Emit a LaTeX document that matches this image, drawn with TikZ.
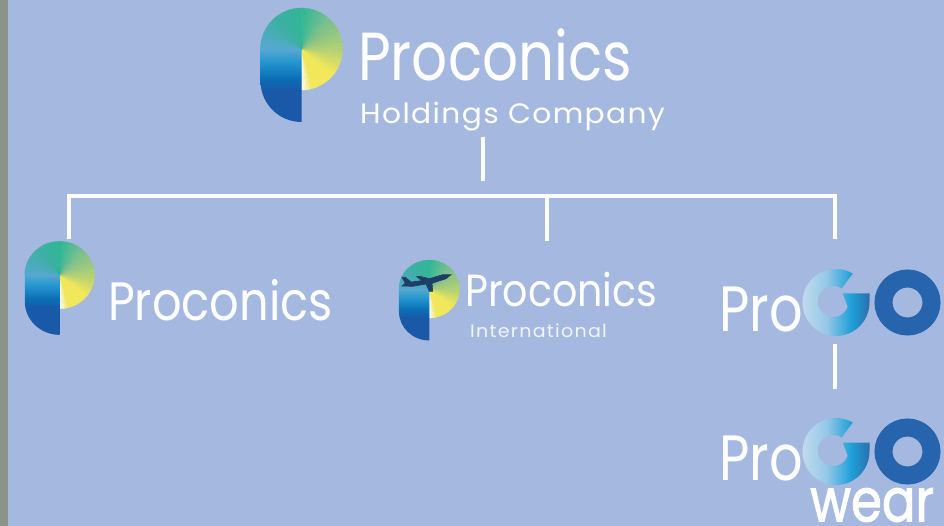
\documentclass[tikz,border=0pt]{standalone}
\usepackage{fontspec}
\setmainfont{Poppins}
\definecolor{pagebg}{HTML}{A5B9E0}
\definecolor{sidebar}{HTML}{8A9488}
\definecolor{logoyel}{HTML}{F3E85A}
\definecolor{logolime}{HTML}{B4D272}
\definecolor{logomint}{HTML}{7CC08C}
\definecolor{logogreen}{HTML}{2FB795}
\definecolor{logoteal}{HTML}{3FAFA8}
\definecolor{logosky}{HTML}{55A8CF}
\definecolor{stema}{HTML}{55A8D0}
\definecolor{stemb}{HTML}{2495D0}
\definecolor{stemc}{HTML}{0A6FB5}
\definecolor{stemd}{HTML}{1A58A8}
\definecolor{goa}{HTML}{C8DEEE}
\definecolor{gob}{HTML}{95C8E8}
\definecolor{goc}{HTML}{1FA0D8}
\definecolor{god}{HTML}{2A6FAE}
\definecolor{goblue}{HTML}{2665AE}
\definecolor{planec}{HTML}{1E3E68}
\pgfdeclareverticalshading{stemshade}{100bp}{color(0bp)=(stemd); color(47bp)=(stemd); color(55bp)=(stemc); color(66bp)=(stemb); color(75bp)=(stema); color(100bp)=(stema)}
\pgfdeclarehorizontalshading{goshade}{100bp}{color(0bp)=(goa); color(25bp)=(goa); color(45bp)=(gob); color(62bp)=(goc); color(75bp)=(god); color(100bp)=(god)}
% size, width factor and letter spacing of a brand text
\newcommand{\brandfont}[3]{\fontspec[FakeStretch=#2,LetterSpace=#3]{Poppins}\fontsize{#1}{#1}\selectfont}
\newcommand{\wearfont}{\fontspec[FakeStretch=.83,FakeBold=1.5]{Poppins}\fontsize{60}{60}\selectfont}
\tikzset{
  link/.style={white,line width=4pt},
  brand/.style={white,inner sep=0pt,anchor=base west},
}
% the P mark: x, y of the bowl centre, then x and y scale
\newcommand{\pmark}[4]{
\begin{scope}[shift={(#1,#2)},x=#3pt,y=#4pt]
\foreach \aa/\ab/\ca/\cb in {-90/-74/white/logoyel,-74/-38/logoyel/logoyel,-38/-2/logoyel/logolime,-2/46/logolime/logomint,46/90/logomint/logogreen,90/136/logogreen/logoteal,136/180/logoteal/logosky} {
  \pgfmathsetmacro{\astep}{(\ab-\aa)/8}
  \foreach \k in {1,...,8} {
    \pgfmathsetmacro{\pc}{(\k-.5)*12.5}
    \pgfmathsetmacro{\ta}{\aa+(\k-1)*\astep}
    \pgfmathsetmacro{\tb}{\aa+\k*\astep}
    \draw [line width=.3pt,color=\cb!\pc!\ca,fill=\cb!\pc!\ca] (0,0) -- (\ta:41) arc [start angle=\ta,end angle=\tb,radius=41] -- cycle ;
  }
}
\shade [shading=stemshade] (-41,0) -- (0,0) -- (0,-73) arc [start angle=270,end angle=180,x radius=41,y radius=41] -- cycle ;
\end{scope}
}
% the G and O of the ProGO mark, y is the centre line
\newcommand{\gomark}[1]{
\begin{scope}[shift={(836,#1)},x=1pt,y=1pt]
\shade [shading=goshade] (60:33.5) arc [start angle=60,end angle=360,radius=33.5] -- (33.5,9) -- (6.7,9) -- (11.7,-4.3) arc [start angle=-20,end angle=-303,radius=15.5] -- cycle ;
\draw [goblue,line width=18pt] (71.5,0) circle [radius=24] ;
\end{scope}
}

\begin{document}
\begin{tikzpicture}[x=1pt,y=-1pt]

\useasboundingbox (0,0) rectangle (944,526) ;
\fill [pagebg] (0,0) rectangle (944,526) ;
\fill [sidebar] (0,0) rectangle (8,526) ;

% top logo
\pmark{301.5}{49}{1}{1}
\node [brand,font=\brandfont{68}{.83}{0}] (holdname) at (358,81) {Proconics} ;
\node [brand,font=\brandfont{28}{1.06}{5}] (holdsub) at (360,124) {Holdings Company} ;

% the three companies
\pmark{59.6}{275}{.85}{.82}
\node [brand,font=\brandfont{54}{.857}{0}] (mainname) at (108,320) {Proconics} ;

\pmark{429.3}{289}{.74}{.705}
\filldraw [planec,line width=.6pt] (451,274.7) -- (442.7,274.7) -- (429.3,278.7) -- (420,276.3) -- (416.7,276.7) -- (422,280.7) -- (411,282) -- (405.3,277.3) -- (402,277.3) -- (405.3,283.3) -- (402,286) -- (412.7,286.3) -- (426,284) -- (429.3,291.3) -- (432.7,291.3) -- (432,283.3) -- (446,278.7) -- cycle ;
\node [brand,font=\brandfont{45}{.88}{0}] (intlname) at (465,306.5) {Proconics} ;
\node [brand,font=\brandfont{18}{1.06}{7},white!85!pagebg] (intlsub) at (470,337.3) {International} ;

\node [brand,font=\brandfont{64}{.82}{0}] (goname) at (719,331) {Pro} ;
\gomark{302.5}

\node [brand,font=\brandfont{64}{.82}{0}] (wearname) at (719,480) {Pro} ;
\gomark{451.5}
\node [brand,font=\wearfont] (wearsub) at (810,521.5) {wear} ;

% connectors
\coordinate (trunktop) at (483.3,137) ;
\coordinate (trunkend) at (483.3,181.5) ;
\coordinate (barleft) at (69,195.7) ;
\coordinate (barmid) at (547,195.7) ;
\coordinate (barright) at (835,195.7) ;
\coordinate (dropleft) at (69,239) ;
\coordinate (dropmid) at (547,241) ;
\coordinate (dropright) at (835,239) ;
\coordinate (wearlinktop) at (835,344) ;
\coordinate (wearlinkend) at (835,389.3) ;

\draw [link] (trunktop) -- (trunkend) ;
\draw [link,line join=miter] (dropleft) -- (barleft) -- (barright) -- (dropright) ;
\draw [link] (barmid) -- (dropmid) ;
\draw [link] (wearlinktop) -- (wearlinkend) ;

\end{tikzpicture}
\end{document}
